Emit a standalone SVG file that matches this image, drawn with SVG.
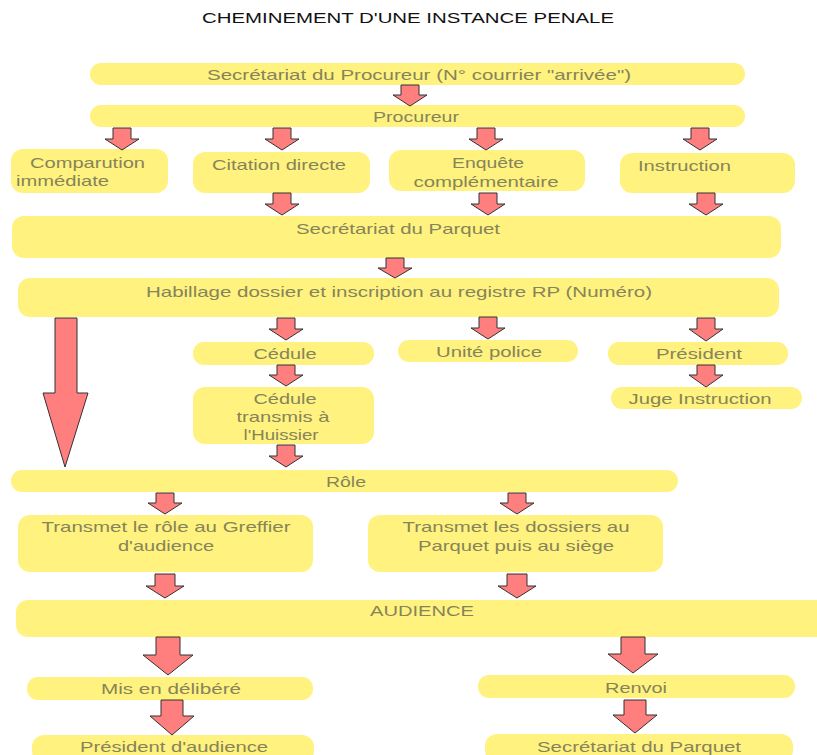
<svg xmlns="http://www.w3.org/2000/svg" width="817" height="755" viewBox="0 0 817 755">
<style>
.b{fill:#fff27f;stroke:none}
.t{font-family:"Liberation Sans",Arial,sans-serif;font-size:15px;fill:#86845a;text-anchor:middle}
.s{text-anchor:start}
.title{font-family:"Liberation Sans",Arial,sans-serif;font-size:14px;fill:#111;text-anchor:middle}
.a{fill:#ff7f7f;stroke:#333;stroke-width:1;stroke-linejoin:miter}
</style>
<rect width="817" height="755" fill="#fff"/>
<text class="title" x="408" y="23" textLength="412" lengthAdjust="spacingAndGlyphs">CHEMINEMENT D'UNE INSTANCE PENALE</text>

<g id="n-secproc"><rect class="b" x="90" y="63" width="655" height="22" rx="11"/><text class="t" x="419" y="80" textLength="424" lengthAdjust="spacingAndGlyphs">Secrétariat du Procureur (N° courrier "arrivée")</text></g>
<g id="n-procureur"><rect class="b" x="90" y="105" width="655" height="22" rx="11"/><text class="t" x="416" y="122" textLength="86" lengthAdjust="spacingAndGlyphs">Procureur</text></g>
<g id="n-comparution"><rect class="b" x="11" y="149" width="157" height="44" rx="12"/><text class="t s" x="30" y="168" textLength="115" lengthAdjust="spacingAndGlyphs">Comparution</text><text class="t s" x="16" y="186" textLength="93" lengthAdjust="spacingAndGlyphs">immédiate</text></g>
<g id="n-citation"><rect class="b" x="193" y="152" width="177" height="41" rx="12"/><text class="t s" x="212" y="170" textLength="134" lengthAdjust="spacingAndGlyphs">Citation directe</text></g>
<g id="n-enquete"><rect class="b" x="389" y="150" width="196" height="41" rx="12"/><text class="t" x="488" y="168" textLength="72" lengthAdjust="spacingAndGlyphs">Enquête</text><text class="t" x="486" y="187" textLength="145" lengthAdjust="spacingAndGlyphs">complémentaire</text></g>
<g id="n-instruction"><rect class="b" x="620" y="153" width="175" height="40" rx="12"/><text class="t s" x="638" y="171" textLength="93" lengthAdjust="spacingAndGlyphs">Instruction</text></g>
<g id="n-secparquet"><rect class="b" x="12" y="216" width="769" height="42" rx="12"/><text class="t" x="398" y="234" textLength="204" lengthAdjust="spacingAndGlyphs">Secrétariat du Parquet</text></g>
<g id="n-habillage"><rect class="b" x="18" y="278" width="761" height="39" rx="12"/><text class="t" x="399" y="297" textLength="506" lengthAdjust="spacingAndGlyphs">Habillage dossier et inscription au registre RP (Numéro)</text></g>
<g id="n-cedule"><rect class="b" x="193" y="342" width="181" height="23" rx="11"/><text class="t" x="285" y="359" textLength="63" lengthAdjust="spacingAndGlyphs">Cédule</text></g>
<g id="n-unite"><rect class="b" x="398" y="340" width="180" height="22" rx="11"/><text class="t" x="489" y="357" textLength="106" lengthAdjust="spacingAndGlyphs">Unité police</text></g>
<g id="n-president"><rect class="b" x="608" y="342" width="180" height="23" rx="11"/><text class="t" x="699" y="359" textLength="86" lengthAdjust="spacingAndGlyphs">Président</text></g>
<g id="n-cedule2"><rect class="b" x="193" y="387" width="181" height="57" rx="12"/><text class="t" x="285" y="404" textLength="63" lengthAdjust="spacingAndGlyphs">Cédule</text><text class="t" x="283" y="422" textLength="93" lengthAdjust="spacingAndGlyphs">transmis à</text><text class="t" x="281" y="440" textLength="75" lengthAdjust="spacingAndGlyphs">l'Huissier</text></g>
<g id="n-juge"><rect class="b" x="611" y="387" width="191" height="22" rx="11"/><text class="t" x="700" y="404" textLength="143" lengthAdjust="spacingAndGlyphs">Juge Instruction</text></g>
<g id="n-role"><rect class="b" x="11" y="470" width="667" height="22" rx="11"/><text class="t" x="346" y="487" textLength="40" lengthAdjust="spacingAndGlyphs">Rôle</text></g>
<g id="n-greffier"><rect class="b" x="18" y="515" width="295" height="57" rx="12"/><text class="t" x="166" y="532" textLength="249" lengthAdjust="spacingAndGlyphs">Transmet le rôle au Greffier</text><text class="t" x="166" y="551" textLength="96" lengthAdjust="spacingAndGlyphs">d'audience</text></g>
<g id="n-dossiers"><rect class="b" x="368" y="515" width="295" height="57" rx="12"/><text class="t" x="516" y="532" textLength="227" lengthAdjust="spacingAndGlyphs">Transmet les dossiers au</text><text class="t" x="516" y="551" textLength="196" lengthAdjust="spacingAndGlyphs">Parquet puis au siège</text></g>
<g id="n-audience"><rect class="b" x="16" y="600" width="820" height="37" rx="12"/><text class="t" x="422" y="616" textLength="104" lengthAdjust="spacingAndGlyphs">AUDIENCE</text></g>
<g id="n-delibere"><rect class="b" x="27" y="677" width="286" height="23" rx="11"/><text class="t" x="171" y="694" textLength="140" lengthAdjust="spacingAndGlyphs">Mis en délibéré</text></g>
<g id="n-renvoi"><rect class="b" x="478" y="675" width="317" height="23" rx="11"/><text class="t" x="636" y="693" textLength="62" lengthAdjust="spacingAndGlyphs">Renvoi</text></g>
<g id="n-presaud"><rect class="b" x="32" y="735" width="282" height="28" rx="12"/><text class="t" x="174" y="752" textLength="188" lengthAdjust="spacingAndGlyphs">Président d'audience</text></g>
<g id="n-secparquet2"><rect class="b" x="485" y="734" width="308" height="28" rx="12"/><text class="t" x="639" y="752" textLength="204" lengthAdjust="spacingAndGlyphs">Secrétariat du Parquet</text></g>

<g id="connectors">
<path class="a" d="M401,85 H419 V95 H427 L410,106 L393,95 H401 Z"/>
<path class="a" d="M113,128 H131 V139 H139 L122,150 L105,139 H113 Z"/>
<path class="a" d="M273,128 H291 V139 H299 L282,150 L265,139 H273 Z"/>
<path class="a" d="M477,128 H495 V139 H503 L486,150 L469,139 H477 Z"/>
<path class="a" d="M691,128 H709 V139 H717 L700,150 L683,139 H691 Z"/>
<path class="a" d="M273,193 H291 V204 H299 L282,215 L265,204 H273 Z"/>
<path class="a" d="M479,193 H497 V204 H505 L488,215 L471,204 H479 Z"/>
<path class="a" d="M697,193 H715 V204 H723 L706,215 L689,204 H697 Z"/>
<path class="a" d="M386,258 H404 V268 H412 L395,278 L378,268 H386 Z"/>
<path class="a" d="M55,318 H77 V393 H88 L65,467 L43,393 H55 Z"/>
<path class="a" d="M277,318 H295 V329 H303 L286,340 L269,329 H277 Z"/>
<path class="a" d="M479,317 H497 V328 H505 L488,339 L471,328 H479 Z"/>
<path class="a" d="M697,318 H715 V329 H723 L706,341 L689,329 H697 Z"/>
<path class="a" d="M277,365 H295 V375 H303 L286,386 L269,375 H277 Z"/>
<path class="a" d="M697,365 H715 V375 H723 L706,387 L689,375 H697 Z"/>
<path class="a" d="M277,445 H295 V456 H303 L286,467 L269,456 H277 Z"/>
<path class="a" d="M156,493 H174 V503 H182 L165,514 L148,503 H156 Z"/>
<path class="a" d="M508,493 H526 V503 H534 L517,514 L500,503 H508 Z"/>
<path class="a" d="M155,574 H175 V586 H184 L165,598 L146,586 H155 Z"/>
<path class="a" d="M507,574 H527 V586 H536 L517,598 L498,586 H507 Z"/>
<path class="a" d="M156,637 H180 V655 H193 L168,675 L143,655 H156 Z"/>
<path class="a" d="M621,637 H645 V654 H658 L633,673 L608,654 H621 Z"/>
<path class="a" d="M161,700 H183 V716 H194 L172,735 L150,716 H161 Z"/>
<path class="a" d="M624,700 H646 V715 H657 L635,733 L613,715 H624 Z"/>
</g>
</svg>
